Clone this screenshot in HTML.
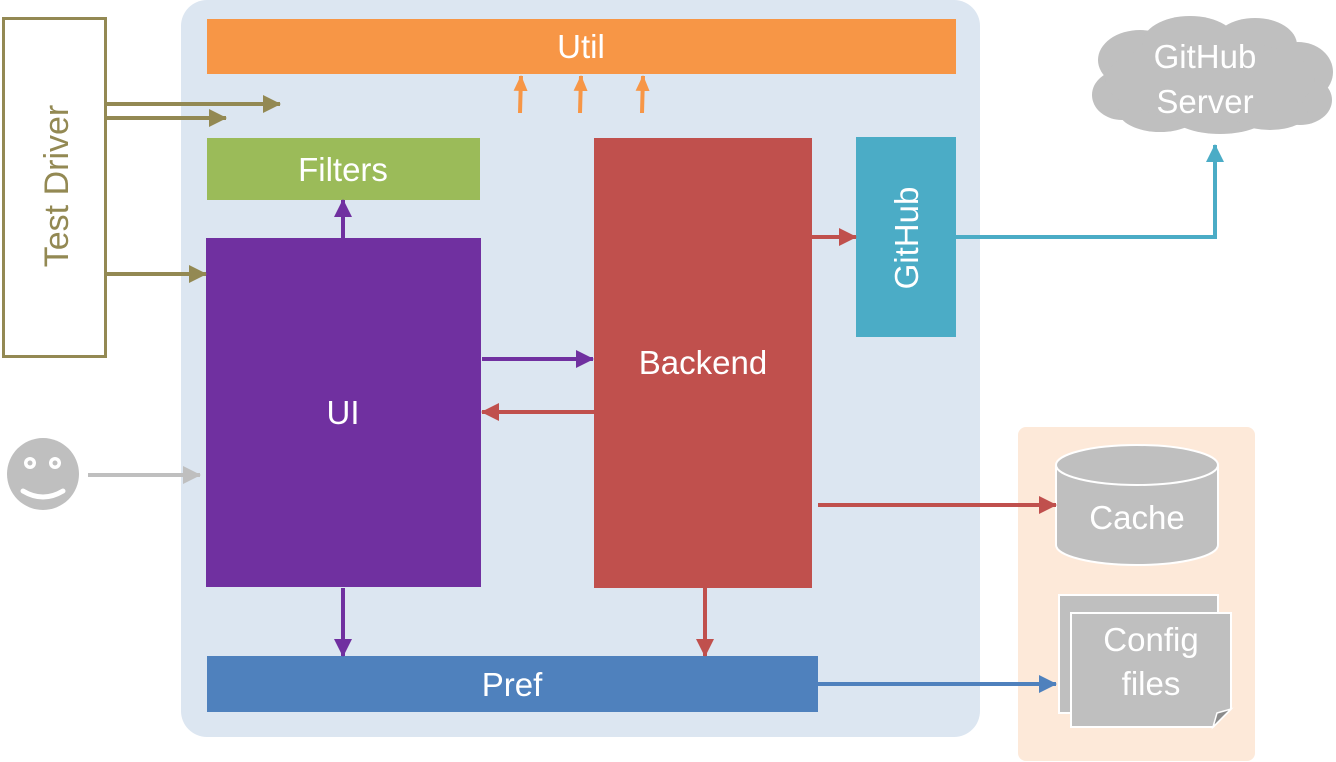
<!DOCTYPE html>
<html><head><meta charset="utf-8"><style>
html,body{margin:0;padding:0;background:#fff;}
svg{display:block;}
text{font-family:"Liberation Sans",sans-serif;fill:#fff;}
</style></head><body>
<svg width="1336" height="762" viewBox="0 0 1336 762" xmlns="http://www.w3.org/2000/svg">
<defs>
<marker id="aOl" markerUnits="userSpaceOnUse" markerWidth="20" markerHeight="20" refX="17" refY="9" orient="auto"><path d="M0,0 L18,9 L0,18 z" fill="#938953"/></marker>
<marker id="aOr" markerUnits="userSpaceOnUse" markerWidth="20" markerHeight="20" refX="15" refY="7" orient="auto"><path d="M0,0 L16,7 L0,14 z" fill="#f79646"/></marker>
<marker id="aPu" markerUnits="userSpaceOnUse" markerWidth="20" markerHeight="20" refX="17" refY="9" orient="auto"><path d="M0,0 L18,9 L0,18 z" fill="#7030a0"/></marker>
<marker id="aRe" markerUnits="userSpaceOnUse" markerWidth="20" markerHeight="20" refX="17" refY="9" orient="auto"><path d="M0,0 L18,9 L0,18 z" fill="#c0504d"/></marker>
<marker id="aBl" markerUnits="userSpaceOnUse" markerWidth="20" markerHeight="20" refX="17" refY="9" orient="auto"><path d="M0,0 L18,9 L0,18 z" fill="#4f81bd"/></marker>
<marker id="aTe" markerUnits="userSpaceOnUse" markerWidth="20" markerHeight="20" refX="17" refY="9" orient="auto"><path d="M0,0 L18,9 L0,18 z" fill="#4bacc6"/></marker>
<marker id="aGr" markerUnits="userSpaceOnUse" markerWidth="20" markerHeight="20" refX="17" refY="9" orient="auto"><path d="M0,0 L18,9 L0,18 z" fill="#bfbfbf"/></marker>
</defs>

<rect x="181" y="0" width="799" height="737" rx="26" fill="#dce6f1"/>
<rect x="1018" y="427" width="237" height="334" rx="8" fill="#fde9d9"/>

<rect x="3.5" y="18.5" width="102" height="338" fill="#fff" stroke="#938953" stroke-width="3"/>
<text x="0" y="0" transform="translate(68,186) rotate(-90)" text-anchor="middle" font-size="34" style="fill:#938953">Test Driver</text>

<rect x="207" y="19" width="749" height="55" fill="#f79646"/>
<text x="581" y="58" text-anchor="middle" font-size="33">Util</text>

<rect x="207" y="138" width="273" height="62" fill="#9bbb59"/>
<text x="343" y="181" text-anchor="middle" font-size="33">Filters</text>

<rect x="206" y="238" width="275" height="349" fill="#7030a0"/>
<text x="343" y="424" text-anchor="middle" font-size="33">UI</text>

<rect x="594" y="138" width="218" height="450" fill="#c0504d"/>
<text x="703" y="374" text-anchor="middle" font-size="33">Backend</text>

<rect x="856" y="137" width="100" height="200" fill="#4bacc6"/>
<text x="0" y="0" transform="translate(918,238) rotate(-90)" text-anchor="middle" font-size="33">GitHub</text>

<rect x="207" y="656" width="611" height="56" fill="#4f81bd"/>
<text x="512" y="696" text-anchor="middle" font-size="33">Pref</text>

<g fill="#bfbfbf">
<ellipse cx="1140" cy="60" rx="42" ry="30"/>
<ellipse cx="1190" cy="44" rx="48" ry="28"/>
<ellipse cx="1255" cy="45" rx="42" ry="27"/>
<ellipse cx="1298" cy="72" rx="35" ry="30"/>
<ellipse cx="1300" cy="100" rx="32" ry="25"/>
<ellipse cx="1122" cy="95" rx="30" ry="25"/>
<ellipse cx="1160" cy="110" rx="42" ry="22"/>
<ellipse cx="1220" cy="115" rx="48" ry="19"/>
<ellipse cx="1270" cy="112" rx="38" ry="18"/>
<ellipse cx="1210" cy="80" rx="105" ry="40"/>
</g>
<text x="1205" y="68" text-anchor="middle" font-size="33">GitHub</text>
<text x="1205" y="113" text-anchor="middle" font-size="33">Server</text>

<path d="M1056,465 L1056,545 A81,20 0 0 0 1218,545 L1218,465" fill="#bfbfbf" stroke="#fff" stroke-width="2"/>
<ellipse cx="1137" cy="465" rx="81" ry="20" fill="#bfbfbf" stroke="#fff" stroke-width="2"/>
<text x="1137" y="529" text-anchor="middle" font-size="33">Cache</text>

<rect x="1059" y="595" width="159" height="118" fill="#bfbfbf" stroke="#fff" stroke-width="2"/>
<path d="M1071,613 L1231,613 L1231,709 L1213,727 L1071,727 z" fill="#bfbfbf" stroke="#fff" stroke-width="2"/>
<path d="M1213,727 L1217,713 L1231,709 z" fill="#8c8c8c" stroke="#fff" stroke-width="1.5"/>
<text x="1151" y="651" text-anchor="middle" font-size="33">Config</text>
<text x="1151" y="695" text-anchor="middle" font-size="33">files</text>

<circle cx="43" cy="474" r="36" fill="#bfbfbf"/>
<circle cx="30" cy="463" r="6" fill="#fff"/><circle cx="30" cy="463" r="2.5" fill="#bfbfbf"/>
<circle cx="55" cy="463" r="6" fill="#fff"/><circle cx="55" cy="463" r="2.5" fill="#bfbfbf"/>
<path d="M23,491 Q43,503 63,491" fill="none" stroke="#fff" stroke-width="5" stroke-linecap="round"/>

<g stroke-width="4" fill="none">
<line x1="106" y1="104" x2="280" y2="104" stroke="#938953" marker-end="url(#aOl)"/>
<line x1="106" y1="118" x2="226" y2="118" stroke="#938953" marker-end="url(#aOl)"/>
<line x1="106" y1="274" x2="206" y2="274" stroke="#938953" marker-end="url(#aOl)"/>

<line x1="520" y1="113" x2="521" y2="76" stroke="#f79646" marker-end="url(#aOr)"/>
<line x1="580" y1="113" x2="581" y2="76" stroke="#f79646" marker-end="url(#aOr)"/>
<line x1="642" y1="113" x2="643" y2="76" stroke="#f79646" marker-end="url(#aOr)"/>

<line x1="343" y1="238" x2="343" y2="200" stroke="#7030a0" marker-end="url(#aPu)"/>
<line x1="482" y1="359" x2="593" y2="359" stroke="#7030a0" marker-end="url(#aPu)"/>
<line x1="343" y1="588" x2="343" y2="656" stroke="#7030a0" marker-end="url(#aPu)"/>

<line x1="594" y1="412" x2="482" y2="412" stroke="#c0504d" marker-end="url(#aRe)"/>
<line x1="812" y1="237" x2="856" y2="237" stroke="#c0504d" marker-end="url(#aRe)"/>
<line x1="705" y1="588" x2="705" y2="656" stroke="#c0504d" marker-end="url(#aRe)"/>
<line x1="818" y1="505" x2="1056" y2="505" stroke="#c0504d" marker-end="url(#aRe)"/>

<line x1="818" y1="684" x2="1056" y2="684" stroke="#4f81bd" marker-end="url(#aBl)"/>

<polyline points="956,237 1215,237 1215,145" stroke="#4bacc6" marker-end="url(#aTe)"/>

<line x1="88" y1="475" x2="200" y2="475" stroke="#bfbfbf" marker-end="url(#aGr)"/>
</g>
</svg>
</body></html>
